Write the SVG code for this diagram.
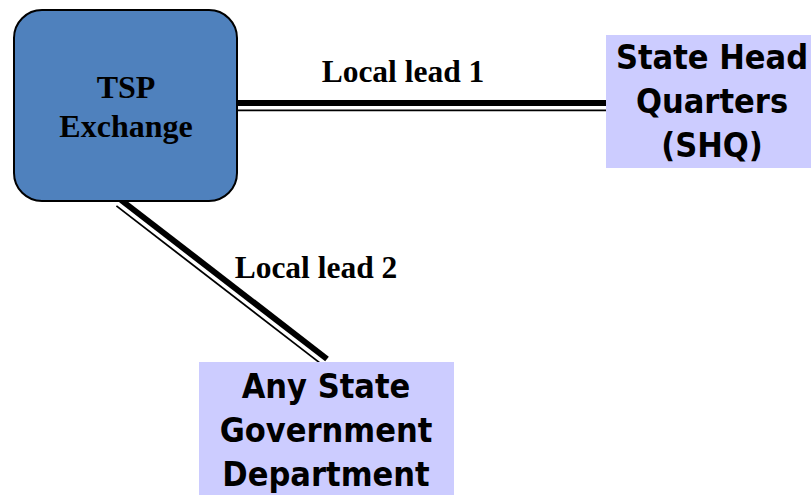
<svg xmlns="http://www.w3.org/2000/svg" width="811" height="495" viewBox="0 0 811 495">
<style>
.lbl{font-family:"Liberation Serif","Times New Roman",serif;font-weight:bold;fill:#000;text-anchor:middle}
.big{font-family:"DejaVu Sans Condensed","DejaVu Sans",sans-serif;font-weight:bold;font-size:34px;fill:#000;text-anchor:middle}
.thick{stroke:#000;stroke-width:6;fill:none}
.thin{stroke:#000;stroke-width:1.8;fill:none}
</style>
<rect width="811" height="495" fill="#fff"/>
<g id="connectors">
  <line class="thick" x1="237" y1="103" x2="606" y2="103"/>
  <line class="thin" x1="237" y1="110.3" x2="606" y2="110.3"/>
  <line class="thick" x1="121" y1="200" x2="327" y2="359"/>
  <line class="thin" x1="116.4" y1="205.9" x2="322.4" y2="364.9"/>
  <text class="lbl" x="403" y="82" font-size="31.5">Local lead 1</text>
  <text class="lbl" x="316" y="278" font-size="31.5">Local lead 2</text>
</g>
<g id="tsp">
  <rect x="14" y="10" width="223" height="191" rx="28" ry="28" fill="#4F81BD" stroke="#000" stroke-width="2"/>
  <text class="lbl" x="126" y="98" font-size="32">TSP</text>
  <text class="lbl" x="126" y="137" font-size="32">Exchange</text>
</g>
<g id="shq">
  <rect x="606" y="35" width="205" height="133" fill="#CCCCFF"/>
  <text class="big" x="712" y="69">State Head</text>
  <text class="big" x="712" y="113">Quarters</text>
  <text class="big" x="712" y="157">(SHQ)</text>
</g>
<g id="dept">
  <rect x="199" y="362" width="255" height="133" fill="#CCCCFF"/>
  <text class="big" x="326" y="398">Any State</text>
  <text class="big" x="326" y="442">Government</text>
  <text class="big" x="326" y="486">Department</text>
</g>
</svg>
